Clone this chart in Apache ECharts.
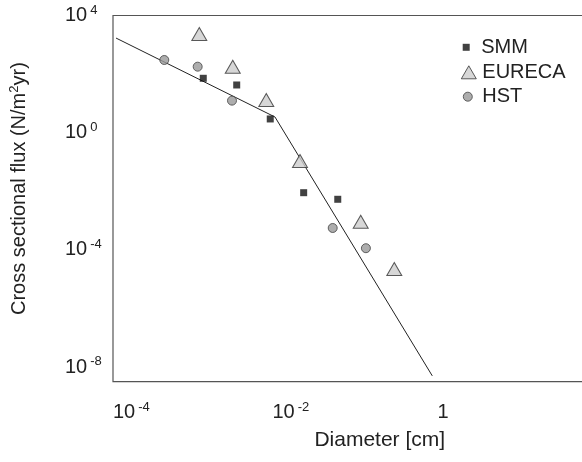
<!DOCTYPE html>
<html>
<head>
<meta charset="utf-8">
<script src="https://cdn.jsdelivr.net/npm/echarts@6/dist/echarts.min.js"></script>
<style>html,body{margin:0;padding:0;background:#fff}#c{width:582px;height:462px}</style>
</head>
<body>
<div id="c"></div>
<script>
// Diameter [cm] and cross sectional flux [N/(m^2 yr)]
const modelD    = [7.94e-5, 7.82e-3, 0.734];
const modelFlux = [1698, 3.43, 5.0e-9];

const smmD    = [9.86e-4, 2.59e-3, 6.82e-3, 0.0179, 0.0479];
const smmFlux = [71.9, 42.5, 2.94, 8.95e-3, 5.33e-3];

const eurecaD    = [8.79e-4, 2.31e-3, 6.08e-3, 0.0161, 0.0929, 0.245];
const eurecaFlux = [2339, 179, 13.1, 0.108, 9.16e-4, 2.23e-5];

const hstD    = [3.20e-4, 8.39e-4, 2.26e-3, 0.0414, 0.108];
const hstFlux = [303, 179, 12.4, 5.58e-4, 1.14e-4];

const xTickExp = [-4, -2, 0];
const yTickExp = [-8, -4, 0, 4];

const FONT = '"Liberation Sans", Arial, Helvetica, sans-serif';
const TXT = '#222';

function pts(xs, ys) { return xs.map((x, i) => [Math.log10(x), Math.log10(ys[i])]); }
function expLabel(v, pad) {
  if (v === 0 && pad) return '1';
  return (pad ? '{hid|' + v + '}' : '') + '10{sup|' + v + '}';
}

const supStyle = { fontSize: 13, lineHeight: 12, verticalAlign: 'top', fontFamily: FONT, color: TXT, padding: [0, 0, 0, 3] };
const hidStyle = Object.assign({}, supStyle, { color: 'rgba(0,0,0,0)', padding: [0, 3, 0, 0] });

const chart = echarts.init(document.getElementById('c'), null, { renderer: 'canvas' });
chart.setOption({
  animation: false,
  backgroundColor: '#fff',
  grid: {
    left: 113, right: -20.5, top: 15.5, bottom: 80.3,
    show: true, borderColor: '#555', borderWidth: 1.2, backgroundColor: 'transparent',
    containLabel: false, outerBoundsMode: 'none'
  },
  legend: [
    { data: ['SMM'], orient: 'vertical', left: 462.7, top: 37.3, padding: 0, selectedMode: false,
      itemWidth: 7, itemHeight: 7, itemStyle: { borderWidth: 0 },
      textStyle: { fontSize: 20, fontFamily: FONT, color: TXT, padding: [0, 0, 0, 6.5] } },
    { data: ['EURECA'], orient: 'vertical', left: 460.8, top: 62.3, padding: 0, selectedMode: false,
      itemWidth: 15, itemHeight: 13, itemStyle: { borderWidth: 1, borderColor: '#333' },
      textStyle: { fontSize: 20, fontFamily: FONT, color: TXT, padding: [0, 0, 0, 1] } },
    { data: ['HST'], orient: 'vertical', left: 462.8, top: 86.7, padding: 0, selectedMode: false,
      itemWidth: 9, itemHeight: 9, itemStyle: { borderWidth: 1, borderColor: '#444' },
      textStyle: { fontSize: 20, fontFamily: FONT, color: TXT, padding: [0, 0, 0, 5] } }
  ],
  xAxis: {
    type: 'value', min: -4.138, max: 2,
    name: 'Diameter [cm]', nameLocation: 'middle', nameGap: 48,
    nameTextStyle: { fontSize: 21, fontFamily: FONT, color: TXT, padding: [0, 0, 0, 44] },
    axisLine: { show: false }, axisTick: { show: false }, splitLine: { show: false },
    axisLabel: {
      customValues: xTickExp, margin: 19,
      fontSize: 20, lineHeight: 24, fontFamily: FONT, color: TXT,
      formatter: v => expLabel(v, true),
      rich: { sup: supStyle, hid: hidStyle }
    }
  },
  yAxis: {
    type: 'value', min: -8.5, max: 4,
    name: 'Cross sectional flux (N/m{sup|2}yr)', nameLocation: 'middle', nameGap: 83, nameRotate: 90,
    nameTextStyle: { fontSize: 20, fontFamily: FONT, color: TXT, lineHeight: 22, padding: [0, 0, 0, 20],
      rich: { sup: { fontSize: 13, lineHeight: 12, verticalAlign: 'top', fontFamily: FONT, color: TXT } } },
    axisLine: { show: false }, axisTick: { show: false }, splitLine: { show: false },
    axisLabel: {
      customValues: yTickExp, margin: 48, align: 'left',
      fontSize: 20, lineHeight: 24, fontFamily: FONT, color: TXT,
      formatter: v => expLabel(v, false),
      rich: { sup: supStyle }
    }
  },
  series: [
    { name: 'model', type: 'line', data: pts(modelD, modelFlux), symbol: 'none', z: 1,
      lineStyle: { color: '#222', width: 1 } },
    { name: 'SMM', type: 'scatter', data: pts(smmD, smmFlux), symbol: 'rect', symbolSize: 7, z: 3,
      itemStyle: { color: '#111' } },
    { name: 'EURECA', type: 'scatter', data: pts(eurecaD, eurecaFlux), symbol: 'triangle', symbolSize: [15, 13], z: 3,
      itemStyle: { color: '#cdcdcd', borderColor: '#333', borderWidth: 1 } },
    { name: 'HST', type: 'scatter', data: pts(hstD, hstFlux), symbol: 'circle', symbolSize: 9, z: 3,
      itemStyle: { color: '#999', borderColor: '#444', borderWidth: 1 } }
  ]
});
</script>
</body>
</html>
